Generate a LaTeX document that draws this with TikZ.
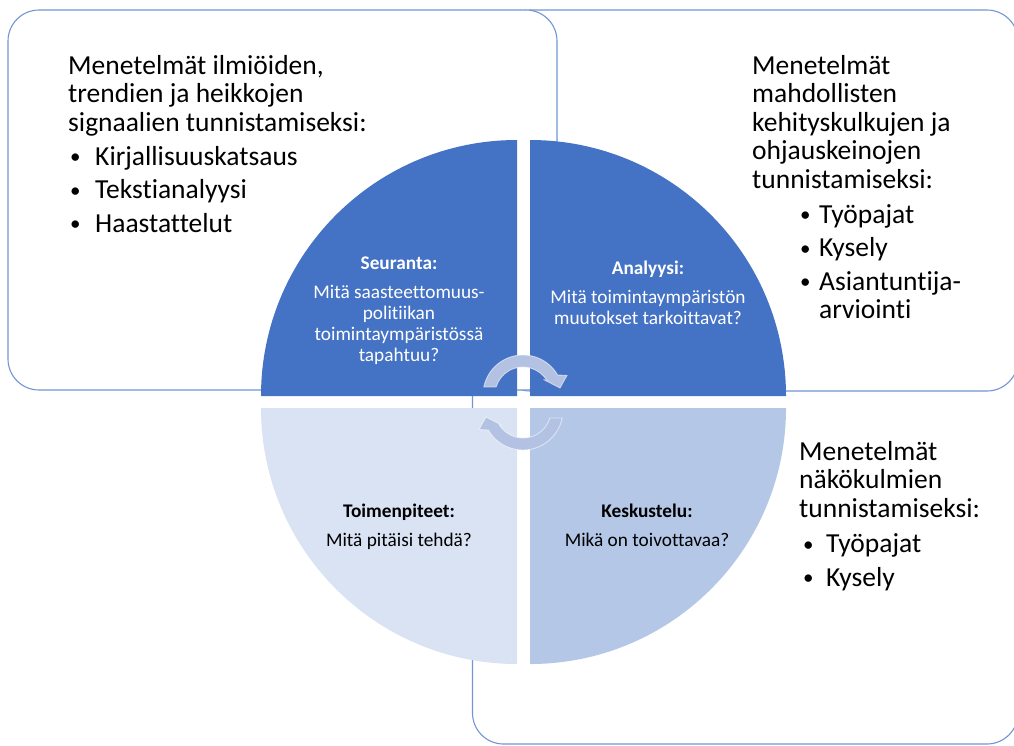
\documentclass[tikz,border=0pt]{standalone}
\usepackage{fontspec}
\setmainfont{Carlito}[Ligatures={NoCommon,NoContextual}]
\definecolor{qdark}{HTML}{4472C4}
\definecolor{qlight}{HTML}{DAE3F3}
\definecolor{qmid}{HTML}{B4C7E7}
\definecolor{boxline}{HTML}{7195D6}
\definecolor{arrowfill}{HTML}{B3C1E2}
\newcommand{\bulletmark}[1]{\makebox[#1][l]{\hspace*{2pt}{\fontsize{21}{21}\selectfont\raisebox{1.5pt}{•}}}}
\begin{document}
\begin{tikzpicture}[x=1pt,y=-1pt,
  methodbox/.style={draw=boxline, line width=1.1pt, fill=white, rounded corners=31pt},
  bigtext/.style={inner sep=0pt, anchor=base west, align=left, text=black,
    font=\fontsize{27.5}{28.5}\selectfont},
  bullettext/.style={inner sep=0pt, anchor=base west, align=left, text=black,
    font=\fontsize{27.5}{33.5}\selectfont},
  quadtext/.style={inner sep=0pt, anchor=base, align=center,
    font=\fontsize{19.3}{21}\selectfont},
  cyclearrow/.style={fill=arrowfill, draw=white, draw opacity=0.55, line width=0.9pt}
]
\useasboundingbox (0,0) rectangle (1014,745);
\clip (0,0) rectangle (1014,745);

% method boxes (back to front)
\draw[methodbox] (472.5,300) rectangle (1018,744);
\draw[methodbox] (499,10) rectangle (1018,391);
\draw[methodbox] (8,10) rectangle (557,390);

% quadrants
\fill[qdark]  (517,396) -- (261,396) arc[start angle=180, end angle=270, radius=256] -- cycle;
\fill[qdark]  (530,396) -- (530,140) arc[start angle=270, end angle=360, radius=256] -- cycle;
\fill[qmid]   (530,408) -- (786,408) arc[start angle=0, end angle=90, radius=256] -- cycle;
\fill[qlight] (517,408) -- (517,664) arc[start angle=90, end angle=180, radius=256] -- cycle;

% circular arrows
\path[cyclearrow] (483.8,387) arc[start angle=191.5, end angle=330, radius=40]
  -- (567,375.5) -- (560,388) -- (543.5,379.5) -- (547.2,381)
  arc[start angle=330, end angle=196.6, radius=28] -- cycle;
\path[cyclearrow, rotate around={180:(523,402.5)}] (483.8,387) arc[start angle=191.5, end angle=330, radius=40]
  -- (567,375.5) -- (560,388) -- (543.5,379.5) -- (547.2,381)
  arc[start angle=330, end angle=196.6, radius=28] -- cycle;

% quadrant texts (anchor = baseline of last line)
\node[quadtext, text=white] (seuranta) at (399,361)
  {\textbf{Seuranta:}\\[8pt]Mitä saasteettomuus-\\politiikan\\toimintaympäristössä\\tapahtuu?};
\node[quadtext, text=white] (analyysi) at (648,324)
  {\textbf{Analyysi:}\\[8pt]Mitä toimintaympäristön\\muutokset tarkoittavat?};
\node[quadtext, text=black] (toimenpiteet) at (399,546)
  {\textbf{Toimenpiteet:}\\[8pt]Mitä pitäisi tehdä?};
\node[quadtext, text=black] (keskustelu) at (647,546)
  {\textbf{Keskustelu:}\\[8pt]Mikä on toivottavaa?};

% box texts (anchor = baseline of last line)
\node[bigtext] (head1) at (68,131)
  {Menetelmät ilmiöiden,\\trendien ja heikkojen\\signaalien tunnistamiseksi:};
\node[bullettext] (list1) at (68,232)
  {\bulletmark{27pt}Kirjallisuuskatsaus\\\bulletmark{27pt}Tekstianalyysi\\\bulletmark{27pt}Haastattelut};

\node[bigtext] (head2) at (752,188)
  {Menetelmät\\mahdollisten\\kehityskulkujen ja\\ohjauskeinojen\\tunnistamiseksi:};
\node[bullettext] (list2) at (798,318.5)
  {\bulletmark{21pt}Työpajat\\\bulletmark{21pt}Kysely\\\bulletmark{21pt}Asiantuntija-\\[-5pt]\hspace*{21pt}arviointi};

\node[bigtext] (head3) at (799,517)
  {Menetelmät\\näkökulmien\\tunnistamiseksi:};
\node[bullettext] (list3) at (801,586)
  {\bulletmark{25pt}Työpajat\\\bulletmark{25pt}Kysely};
\end{tikzpicture}
\end{document}
